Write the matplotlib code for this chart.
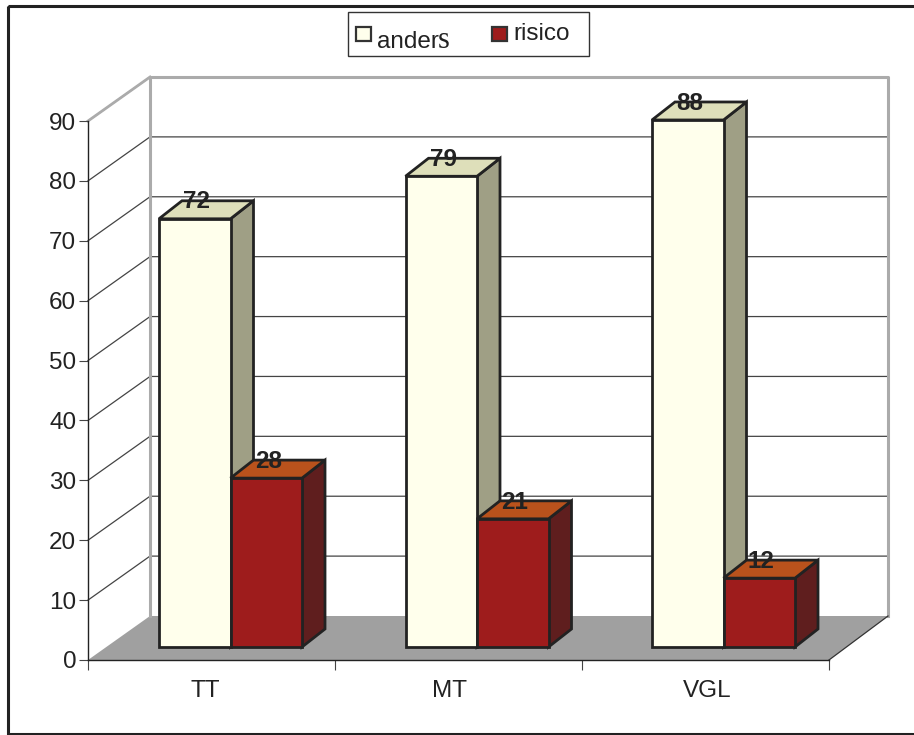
import matplotlib
matplotlib.use("Agg")
from matplotlib import pyplot as plt
from matplotlib.patches import Polygon, Rectangle
from matplotlib.transforms import Affine2D

categories = ["TT", "MT", "VGL"]
anders = [72, 79, 88]
risico = [28, 21, 12]
# hoogte van de balken zoals getekend, wijkt iets af van de labels
anders_h = [71.5, 78.6, 88]
risico_h = [28.2, 21.4, 11.5]
yticks = [0, 10, 20, 30, 40, 50, 60, 70, 80, 90]

W, H = 914, 735
INK = "#222222"
plt.rcParams["font.family"] = ["Liberation Sans", "DejaVu Sans"]

fig = plt.figure(figsize=(W / 100, H / 100), dpi=100)
# voorvlak van de grafiek: x 88-829, y 121-660 in pixels
ax = fig.add_axes([88 / W, 1 - 660 / H, (829 - 88) / W, (660 - 121) / H])
ax.set_xlim(0, 3)
ax.set_ylim(0, 90)
ax.patch.set_visible(False)
for s in ["top", "right"]:
    ax.spines[s].set_visible(False)
for s in ["left", "bottom"]:
    ax.spines[s].set_color(INK)
    ax.spines[s].set_linewidth(1.0)
    ax.spines[s].set_zorder(6)

ax.set_yticks(yticks)
ax.set_xticks([0, 1, 2, 3])
ax.set_xticklabels([])
ax.set_xticks([0.474, 1.464, 2.507], categories, minor=True)
ax.tick_params(axis="y", length=6.5, width=0.8, color="#444444", labelsize=17.5,
               labelcolor=INK, pad=2)
ax.tick_params(axis="x", which="major", length=7.5, width=0.8, color="#444444", direction="out")
ax.tick_params(axis="x", which="minor", length=0, labelsize=17.5, labelcolor=INK, pad=14.5)

# diepte van de wanden en van de balken, in data-eenheden
unit_x = (829 - 88) / 3
unit_y = (660 - 121) / 90
wall_dx, wall_dy = 62 / unit_x, 44 / unit_y
wall_right = (888 - 88) / unit_x
bar_dx, bar_dy = 23 / unit_x, 18 / unit_y
base = 13 / unit_y
bar_w = 71.5 / unit_x
bar_off = 71 / unit_x
cat_step = 246.5 / unit_x

# vloer
ax.add_patch(Polygon([(0, 0), (wall_dx, wall_dy), (wall_right, wall_dy), (3, 0)], closed=True,
                     fc="#a0a0a0", ec="none", zorder=1, clip_on=False))
ax.plot([3, wall_right], [0, wall_dy], color="#333333", lw=0.9, zorder=1.5, clip_on=False)

# rasterlijnen op zijwand en achterwand
for v in yticks[1:]:
    ax.plot([0, wall_dx, wall_right], [v, v + wall_dy, v + wall_dy], color="#444444", lw=0.9,
            zorder=1.2, clip_on=False)

# randen van de wanden
ax.plot([wall_right, wall_right, wall_dx, wall_dx], [wall_dy, 90 + wall_dy, 90 + wall_dy, wall_dy],
        color="#ababab", lw=2.2, zorder=1.3, clip_on=False)
ax.plot([0, wall_dx], [90, 90 + wall_dy], color="#ababab", lw=2.0, zorder=1.3, clip_on=False)


def bar3d(x, h, label, front, top, side, z):
    y0 = base
    y1 = base + h
    x1 = x + bar_w
    edge = dict(ec=INK, lw=2.0, joinstyle="miter", clip_on=False, zorder=z)
    ax.add_patch(Polygon([(x1, y0), (x1 + bar_dx, y0 + bar_dy), (x1 + bar_dx, y1 + bar_dy), (x1, y1)],
                         closed=True, fc=side, **edge))
    ax.add_patch(Polygon([(x, y1), (x + bar_dx, y1 + bar_dy), (x1 + bar_dx, y1 + bar_dy), (x1, y1)],
                         closed=True, fc=top, **edge))
    ax.add_patch(Rectangle((x, y0), bar_w, h, fc=front, **edge))
    ax.text(x + bar_w / 2 + 2 / unit_x, y1 + bar_dy - 0.2, str(label), ha="center", va="center", fontsize=17.5,
            fontweight="bold", color=INK, zorder=z + 0.5, clip_on=False)


for i in range(len(categories)):
    x = i * cat_step + bar_off
    bar3d(x, anders_h[i], anders[i], "#ffffec", "#dedfba", "#9f9f85", 3 + i)
    bar3d(x + bar_w, risico_h[i], risico[i], "#9e1c1c", "#b9521c", "#5f1e1e", 3.2 + i)

# buitenkader en legenda, in pixels van de figuur
px = Affine2D().scale(1, -1).translate(0, H)
fig.add_artist(Rectangle((8, 5.5), W + 5, 728, transform=px, fc="none", ec=INK, lw=2.2))
fig.add_artist(Rectangle((347.5, 11.5), 241, 44, transform=px, fc="white", ec="#333333", lw=1.0))
fig.add_artist(Rectangle((356, 26.5), 15, 14, transform=px, fc="#ffffec", ec="#333333", lw=1.6))
fig.add_artist(Rectangle((492, 26.5), 15, 14, transform=px, fc="#9e1c1c", ec="#333333", lw=1.6))
fig.text(377 / W, 1 - 48 / H, "ander", fontsize=17.5, color=INK, va="baseline")
fig.text(438 / W, 1 - 48 / H, "s", fontsize=22, color=INK, va="baseline", family="Liberation Serif")
fig.text(513 / W, 1 - 40 / H, "risico", fontsize=17.5, color=INK, va="baseline")

fig.savefig("out.png", dpi=100)
